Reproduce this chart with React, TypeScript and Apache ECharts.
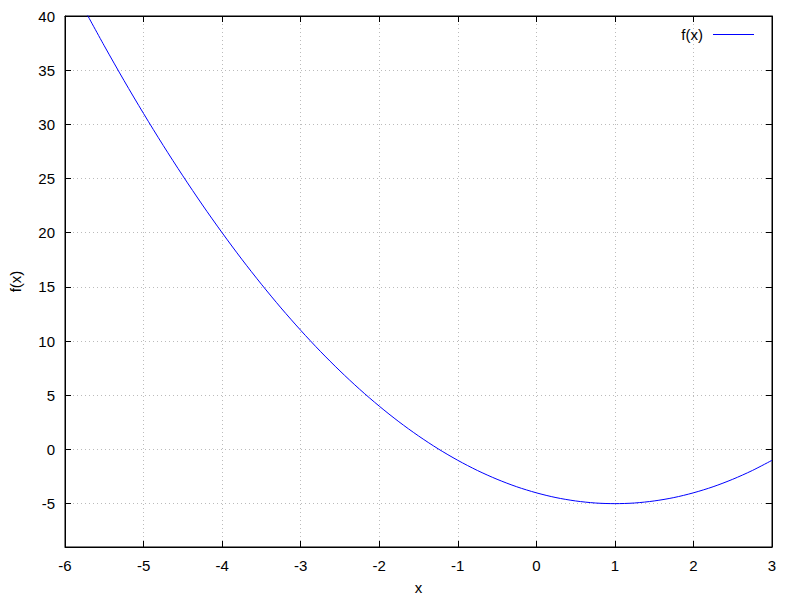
import React, { useEffect, useRef } from "react";
import * as echarts from "echarts";

const xValues: number[] = [
  -5.75, -5.5, -5.25, -5, -4.75, -4.5, -4.25, -4, -3.75, -3.5, -3.25, -3,
  -2.75, -2.5, -2.25, -2, -1.75, -1.5, -1.25, -1, -0.75, -0.5, -0.25, 0,
  0.25, 0.5, 0.75, 1, 1.25, 1.5, 1.75, 2, 2.25, 2.5, 2.75, 3,
];
const yValues: number[] = [
  40.56, 37.25, 34.06, 31, 28.06, 25.25, 22.56, 20, 17.56, 15.25, 13.06, 11,
  9.06, 7.25, 5.56, 4, 2.56, 1.25, 0.06, -1, -1.94, -2.75, -3.44, -4,
  -4.44, -4.75, -4.94, -5, -4.94, -4.75, -4.44, -4, -3.44, -2.75, -1.94, -1,
];
const yTicks: number[] = [-5, 0, 5, 10, 15, 20, 25, 30, 35, 40];
const seriesName = "f(x)";
const xAxisName = "x";
const yAxisName = "f(x)";

const FONT = "Liberation Sans, Arial, Helvetica, sans-serif";

export default function App() {
  const ref = useRef<HTMLDivElement>(null);
  useEffect(() => {
    if (!ref.current) return;
    const chart = echarts.init(ref.current, undefined, { renderer: "svg" });
    const data = xValues.map((x, i) => [x, yValues[i]]);
    const gridLine = {
      show: true,
      lineStyle: { color: "#bbbbbb", type: [1, 3] as any, width: 1 },
    };
    const tick = { show: true, inside: true, length: 6, lineStyle: { color: "#000", width: 1 } };
    chart.setOption({
      animation: false,
      backgroundColor: "#ffffff",
      textStyle: { fontFamily: FONT },
      grid: {
        left: 65,
        right: 28,
        top: 16,
        bottom: 49,
        show: true,
        borderColor: "#000",
        borderWidth: 1,
        backgroundColor: "transparent",
      },
      legend: {
        show: true,
        right: 41,
        top: 22,
        align: "right",
        icon: "rect",
        itemWidth: 41,
        itemHeight: 1,
        itemGap: 10,
        textStyle: { fontFamily: FONT, fontSize: 15, color: "#000", padding: [0, 5, 0, 0] },
        data: [{ name: seriesName, itemStyle: { color: "#0000ff" } }],
      },
      xAxis: [
        {
          type: "value",
          min: -6,
          max: 3,
          interval: 1,
          name: xAxisName,
          nameLocation: "middle",
          nameGap: 33,
          nameTextStyle: { fontFamily: FONT, fontSize: 15, color: "#000" },
          axisLine: { show: true, onZero: false, lineStyle: { color: "#000" } },
          axisTick: tick,
          axisLabel: { fontFamily: FONT, fontSize: 15, color: "#000", margin: 11 },
          splitLine: gridLine,
        },
        {
          type: "value",
          position: "top",
          min: -6,
          max: 3,
          interval: 1,
          axisLine: { show: true, onZero: false, lineStyle: { color: "#000" } },
          axisTick: tick,
          axisLabel: { show: false },
          splitLine: { show: false },
        },
      ],
      yAxis: [
        {
          type: "value",
          min: -9,
          max: 40,
          name: yAxisName,
          nameLocation: "middle",
          nameGap: 42,
          nameRotate: 90,
          nameTextStyle: { fontFamily: FONT, fontSize: 15, color: "#000" },
          axisLine: { show: true, onZero: false, lineStyle: { color: "#000" } },
          axisTick: { ...tick, customValues: yTicks },
          axisLabel: {
            fontFamily: FONT,
            fontSize: 15,
            color: "#000",
            margin: 10,
            customValues: yTicks,
          },
          splitLine: gridLine,
        },
        {
          type: "value",
          position: "right",
          min: -9,
          max: 40,
          axisLine: { show: true, onZero: false, lineStyle: { color: "#000" } },
          axisTick: { ...tick, customValues: yTicks },
          axisLabel: { show: false, customValues: yTicks },
          splitLine: { show: false },
        },
      ],
      series: [
        {
          name: seriesName,
          type: "line",
          data,
          smooth: 0.3,
          symbol: "none",
          clip: true,
          lineStyle: { color: "#0000ff", width: 1 },
          itemStyle: { color: "#0000ff" },
        },
      ],
    });
    return () => chart.dispose();
  }, []);
  return (
    <div
      ref={ref}
      style={{ position: "fixed", left: 0, top: 0, width: 800, height: 600, background: "#fff" }}
    />
  );
}
